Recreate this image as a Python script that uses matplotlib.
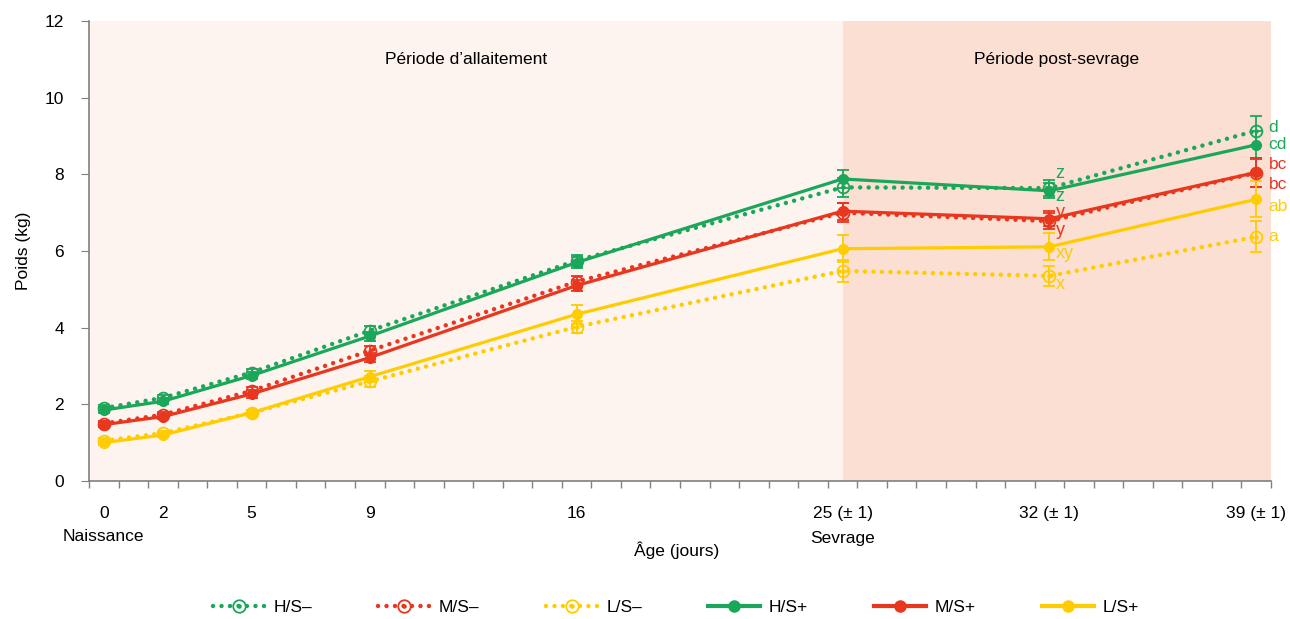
import matplotlib
matplotlib.use("Agg")
import matplotlib.pyplot as plt
from matplotlib.lines import Line2D
from matplotlib.path import Path
import numpy as np

plt.rcParams['font.family'] = ['Liberation Sans', 'DejaVu Sans']

# ---- data ----
days = [0, 2, 5, 9, 16, 25, 32, 39]
tick_labels = ["0", "2", "5", "9", "16", "25 (± 1)", "32 (± 1)", "39 (± 1)"]
series = ["H/S–", "M/S–", "L/S–", "H/S+", "M/S+", "L/S+"]
hs_minus = [1.90, 2.17, 2.83, 3.92, 5.75, 7.66, 7.64, 9.14]
ms_minus = [1.50, 1.73, 2.35, 3.40, 5.20, 7.00, 6.78, 8.04]
ls_minus = [1.05, 1.25, 1.78, 2.60, 4.02, 5.48, 5.35, 6.37]
hs_plus = [1.85, 2.08, 2.75, 3.78, 5.70, 7.88, 7.57, 8.77]
ms_plus = [1.47, 1.68, 2.27, 3.22, 5.10, 7.04, 6.84, 8.05]
ls_plus = [1.00, 1.20, 1.78, 2.72, 4.35, 6.06, 6.11, 7.35]
hs_minus_err = [0.07, 0.08, 0.10, 0.12, 0.15, 0.24, 0.20, 0.38]
ms_minus_err = [0.06, 0.07, 0.10, 0.12, 0.15, 0.25, 0.20, 0.37]
ls_minus_err = [0.06, 0.06, 0.08, 0.15, 0.15, 0.29, 0.25, 0.40]
hs_plus_err = [0.07, 0.08, 0.10, 0.12, 0.15, 0.23, 0.20, 0.35]
ms_plus_err = [0.06, 0.07, 0.10, 0.12, 0.15, 0.22, 0.20, 0.37]
ls_plus_err = [0.06, 0.06, 0.08, 0.15, 0.25, 0.35, 0.35, 0.47]
sig32 = ["z", "y", "x", "z", "y", "xy"]
sig39 = ["d", "bc", "a", "cd", "bc", "ab"]

green, red, yellow = "#1BA75A", "#E8361F", "#FFCC00"

# ring with centre dot marker
circ = Path.unit_circle()
inner = Path(circ.vertices * 0.22, circ.codes)
ring_dot = Path.make_compound_path(circ, inner)

fig = plt.figure(figsize=(12.9, 6.19), dpi=100)
ax = fig.add_axes([89/1290, 1-481/619, (1271-89)/1290, (481-21)/619])
ax.set_xlim(-0.5, 39.5)
ax.set_ylim(0, 12)
ax.axvspan(-0.5, 25, color="#FDF3EF", zorder=0, lw=0)
ax.axvspan(25, 39.5, color="#FADFD2", zorder=0, lw=0)

vals = [hs_minus, ms_minus, ls_minus, hs_plus, ms_plus, ls_plus]
errs = [hs_minus_err, ms_minus_err, ls_minus_err, hs_plus_err, ms_plus_err, ls_plus_err]
cols = [green, red, yellow, green, red, yellow]
dot_style = (0, (0.01, 1.9))
handles = []
for i, (v, e, c) in enumerate(zip(vals, errs, cols)):
    dotted = i < 3
    ax.errorbar(days, v, yerr=e, fmt='none', ecolor=c, elinewidth=1.3,
                capsize=4, capthick=1.3, zorder=3)
    if dotted:
        ax.plot(days, v, color=c, lw=3.2, linestyle=dot_style,
                dash_capstyle='round', zorder=5)
        ax.plot(days, v, ls='none', marker=ring_dot, mfc='none', mec=c, ms=8.5, mew=1.3, zorder=6)
        h = Line2D([], [], color=c, lw=3.2, linestyle=dot_style, dash_capstyle='round',
                   marker=ring_dot, mfc='none', mec=c, ms=9, mew=1.3)
    else:
        ax.plot(days, v, color=c, lw=2.3, marker='o', ms=7, zorder=4)
        h = Line2D([], [], color=c, lw=3, marker='o', ms=8)
    handles.append(h)

# significance letters
off32 = [15, -9, -9, -6, 6, -7]
off39 = [3, 8, 0, 0, -12, -7]
for i, (v, c) in enumerate(zip(vals, cols)):
    ax.annotate(sig32[i], (days[6], v[6]), xytext=(4.5, off32[i]*0.72), textcoords='offset points',
                color=c, fontsize=13, va='center', ha='left', annotation_clip=False)
    ax.annotate(sig39[i], (days[7], v[7]), xytext=(9, off39[i]*0.72), textcoords='offset points',
                color=c, fontsize=12.5, va='center', ha='left', annotation_clip=False)

ax.text(12.25, 11.0, "Période d’allaitement", ha='center', va='center', fontsize=12.5)
ax.text(32.25, 11.0, "Période post-sevrage", ha='center', va='center', fontsize=12.5)

for s in ["top", "right"]:
    ax.spines[s].set_visible(False)
for s in ["left", "bottom"]:
    ax.spines[s].set_color("#808080")
    ax.spines[s].set_linewidth(1.2)
ax.set_yticks(range(0, 13, 2))
ax.tick_params(axis='y', length=6, color="#808080", labelsize=12.5, pad=12)
ax.set_xticks(days)
ax.set_xticklabels(tick_labels)
ax.tick_params(axis='x', length=0, labelsize=12.5, pad=18)
ax.set_xticks(np.arange(-0.5, 40, 1), minor=True)
ax.tick_params(axis='x', which='minor', length=5, color="#808080", width=1)
ax.text(0, -1.45, "Naissance", ha='center', va='center', fontsize=12.5, clip_on=False)
ax.text(25, -1.5, "Sevrage", ha='center', va='center', fontsize=12.5, clip_on=False)
ax.text(19.4, -1.8, "Âge (jours)", ha='center', va='center', fontsize=12.5, clip_on=False)
ax.set_ylabel("Poids (kg)", fontsize=12.5, labelpad=10)

fig.legend(handles, series, loc='center', bbox_to_anchor=(0.524, 0.018), ncol=6, frameon=False,
           fontsize=12.5, handlelength=3.0, columnspacing=3.8, handletextpad=0.5, numpoints=1)

fig.savefig("out.png", dpi=100)
